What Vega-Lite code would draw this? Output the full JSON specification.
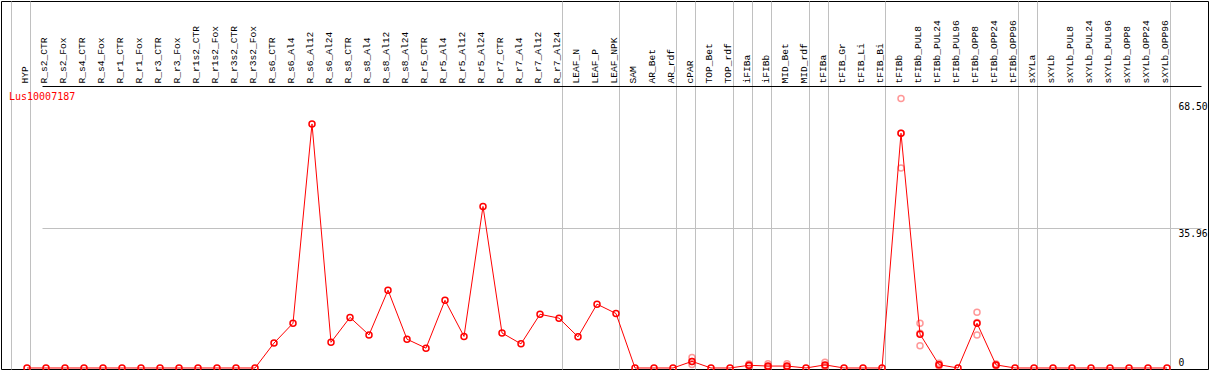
{
  "$schema": "https://vega.github.io/schema/vega-lite/v6.json",
  "width": 1207,
  "height": 368,
  "autosize": {"type": "none"},
  "padding": {"left": 1, "top": 1, "right": 1, "bottom": 1},
  "background": "white",
  "config": {"view": {"stroke": "black", "strokeWidth": 1}, "font": "DejaVu Sans Mono"},
  "title": {"text": "Lus10007187", "orient": "top", "anchor": "start", "frame": "group", "offset": -109, "dx": 8, "color": "red", "font": "DejaVu Sans Mono", "fontSize": 10, "fontWeight": "normal", "baseline": "alphabetic"},
  "datasets": {
    "means": [
      {"sample": "HYP", "expr": 0}, {"sample": "R_s2_CTR", "expr": 0}, {"sample": "R_s2_Fox", "expr": 0},
      {"sample": "R_s4_CTR", "expr": 0}, {"sample": "R_s4_Fox", "expr": 0}, {"sample": "R_r1_CTR", "expr": 0},
      {"sample": "R_r1_Fox", "expr": 0}, {"sample": "R_r3_CTR", "expr": 0}, {"sample": "R_r3_Fox", "expr": 0},
      {"sample": "R_r1s2_CTR", "expr": 0}, {"sample": "R_r1s2_Fox", "expr": 0}, {"sample": "R_r3s2_CTR", "expr": 0},
      {"sample": "R_r3s2_Fox", "expr": 0}, {"sample": "R_s6_CTR", "expr": 6.4}, {"sample": "R_s6_Al4", "expr": 11.5},
      {"sample": "R_s6_Al12", "expr": 62.7}, {"sample": "R_s6_Al24", "expr": 6.6}, {"sample": "R_s8_CTR", "expr": 13.0},
      {"sample": "R_s8_Al4", "expr": 8.5}, {"sample": "R_s8_Al12", "expr": 20.0}, {"sample": "R_s8_Al24", "expr": 7.4},
      {"sample": "R_r5_CTR", "expr": 5.1}, {"sample": "R_r5_Al4", "expr": 17.4}, {"sample": "R_r5_Al12", "expr": 8.1},
      {"sample": "R_r5_Al24", "expr": 41.5}, {"sample": "R_r7_CTR", "expr": 9.0}, {"sample": "R_r7_Al4", "expr": 6.2},
      {"sample": "R_r7_Al12", "expr": 13.8}, {"sample": "R_r7_Al24", "expr": 12.8}, {"sample": "LEAF_N", "expr": 8.0},
      {"sample": "LEAF_P", "expr": 16.4}, {"sample": "LEAF_NPK", "expr": 14.0}, {"sample": "SAM", "expr": 0},
      {"sample": "AR_Bet", "expr": 0}, {"sample": "AR_rdf", "expr": 0}, {"sample": "cPAR", "expr": 1.7},
      {"sample": "TOP_Bet", "expr": 0}, {"sample": "TOP_rdf", "expr": 0}, {"sample": "iFIBa", "expr": 0.7},
      {"sample": "iFIBb", "expr": 0.5}, {"sample": "MID_Bet", "expr": 0.5}, {"sample": "MID_rdf", "expr": 0},
      {"sample": "tFIBa", "expr": 0.8}, {"sample": "tFIB_Gr", "expr": 0}, {"sample": "tFIB_Li", "expr": 0},
      {"sample": "tFIB_Bi", "expr": 0}, {"sample": "tFIBb", "expr": 60.3}, {"sample": "tFIBb_PUL8", "expr": 8.7},
      {"sample": "tFIBb_PUL24", "expr": 0.85}, {"sample": "tFIBb_PUL96", "expr": 0}, {"sample": "tFIBb_OPP8", "expr": 11.5},
      {"sample": "tFIBb_OPP24", "expr": 0.8}, {"sample": "tFIBb_OPP96", "expr": 0}, {"sample": "sXYLa", "expr": 0},
      {"sample": "sXYLb", "expr": 0}, {"sample": "sXYLb_PUL8", "expr": 0}, {"sample": "sXYLb_PUL24", "expr": 0},
      {"sample": "sXYLb_PUL96", "expr": 0}, {"sample": "sXYLb_OPP8", "expr": 0}, {"sample": "sXYLb_OPP24", "expr": 0},
      {"sample": "sXYLb_OPP96", "expr": 0}
    ],
    "reps": [
      {"sample": "cPAR", "expr": 2.7}, {"sample": "cPAR", "expr": 1.7}, {"sample": "cPAR", "expr": 0.9},
      {"sample": "iFIBa", "expr": 1.0}, {"sample": "iFIBa", "expr": 0.6}, {"sample": "iFIBa", "expr": 0.5},
      {"sample": "iFIBb", "expr": 1.1}, {"sample": "iFIBb", "expr": 0.3}, {"sample": "iFIBb", "expr": 0.1},
      {"sample": "MID_Bet", "expr": 1.1}, {"sample": "MID_Bet", "expr": 0.3}, {"sample": "MID_Bet", "expr": 0.1},
      {"sample": "tFIBa", "expr": 1.5}, {"sample": "tFIBa", "expr": 0.6}, {"sample": "tFIBa", "expr": 0.3},
      {"sample": "tFIBb", "expr": 69.2}, {"sample": "tFIBb", "expr": 60.3}, {"sample": "tFIBb", "expr": 51.4},
      {"sample": "tFIBb_PUL8", "expr": 11.5}, {"sample": "tFIBb_PUL8", "expr": 8.9}, {"sample": "tFIBb_PUL8", "expr": 5.7},
      {"sample": "tFIBb_PUL24", "expr": 1.2}, {"sample": "tFIBb_PUL24", "expr": 0.85}, {"sample": "tFIBb_PUL24", "expr": 0.5},
      {"sample": "tFIBb_OPP8", "expr": 14.3}, {"sample": "tFIBb_OPP8", "expr": 11.7}, {"sample": "tFIBb_OPP8", "expr": 8.5},
      {"sample": "tFIBb_OPP24", "expr": 1.0}, {"sample": "tFIBb_OPP24", "expr": 0.8}, {"sample": "tFIBb_OPP24", "expr": 0.6}
    ]
  },
  "encoding": {
    "x": {
      "field": "sample", "type": "nominal", "sort": null,
      "scale": {"type": "point", "padding": 0, "range": [7, 1166], "domain": ["", "HYP", "R_s2_CTR", "R_s2_Fox", "R_s4_CTR", "R_s4_Fox", "R_r1_CTR", "R_r1_Fox", "R_r3_CTR", "R_r3_Fox", "R_r1s2_CTR", "R_r1s2_Fox", "R_r3s2_CTR", "R_r3s2_Fox", "R_s6_CTR", "R_s6_Al4", "R_s6_Al12", "R_s6_Al24", "R_s8_CTR", "R_s8_Al4", "R_s8_Al12", "R_s8_Al24", "R_r5_CTR", "R_r5_Al4", "R_r5_Al12", "R_r5_Al24", "R_r7_CTR", "R_r7_Al4", "R_r7_Al12", "R_r7_Al24", "LEAF_N", "LEAF_P", "LEAF_NPK", "SAM", "AR_Bet", "AR_rdf", "cPAR", "TOP_Bet", "TOP_rdf", "iFIBa", "iFIBb", "MID_Bet", "MID_rdf", "tFIBa", "tFIB_Gr", "tFIB_Li", "tFIB_Bi", "tFIBb", "tFIBb_PUL8", "tFIBb_PUL24", "tFIBb_PUL96", "tFIBb_OPP8", "tFIBb_OPP24", "tFIBb_OPP96", "sXYLa", "sXYLb", "sXYLb_PUL8", "sXYLb_PUL24", "sXYLb_PUL96", "sXYLb_OPP8", "sXYLb_OPP24", "sXYLb_OPP96"]},
      "axis": {
        "orient": "top", "offset": -85, "title": null,
        "labelAngle": 270, "labelAlign": "left", "labelBaseline": "middle",
        "labelPadding": 3, "labelFont": "Liberation Mono", "labelFontSize": 9.6, "labelColor": "black",
        "labelOverlap": false, "labelFlush": false,
        "ticks": false, "domain": false,
        "tickOffset": 3, "labelOffset": -6,
        "grid": true, "gridColor": "#c0c0c0", "gridWidth": 1,
        "gridOpacity": {"condition": {"test": "indexof(['', 'HYP', 'R_r7_Al24', 'LEAF_NPK', 'AR_rdf', 'cPAR', 'TOP_rdf', 'iFIBa', 'iFIBb', 'MID_rdf', 'tFIBa', 'tFIB_Bi', 'tFIBb_OPP96', 'sXYLa', 'sXYLb_OPP96'], datum.value) >= 0", "value": 1}, "value": 0}
      }
    },
    "y": {
      "field": "expr", "type": "quantitative",
      "scale": {"domain": [-0.257, 94.27], "nice": false, "zero": false},
      "axis": {
        "orient": "right", "title": null, "values": [0, 35.96, 68.5, 72.43],
        "labelExpr": "datum.value > 70 ? '' : datum.value == 0 ? '0' : format(datum.value, '.2f')",
        "labelAlign": "left", "labelPadding": -30,
        "labelBaseline": {"condition": {"test": "datum.value == 0", "value": "bottom"}, "value": "top"},
        "ticks": false, "domain": false,
        "labelFont": "DejaVu Sans Mono", "labelFontSize": 9.7, "labelColor": "black",
        "labelFlush": false, "labelOverlap": false,
        "grid": true, "gridWidth": 1,
        "gridColor": {"condition": {"test": "datum.value > 70", "value": "black"}, "value": "#c0c0c0"},
        "gridOpacity": {"condition": {"test": "(datum.value > 30 && datum.value < 40) || datum.value > 70", "value": 1}, "value": 0}
      }
    }
  },
  "layer": [
    {"data": {"name": "reps"}, "mark": {"type": "point", "shape": "circle", "filled": false, "color": "red", "opacity": 0.4, "size": 36, "strokeWidth": 1.5}},
    {"data": {"name": "means"}, "mark": {"type": "line", "color": "red", "strokeWidth": 1}},
    {"data": {"name": "means"}, "mark": {"type": "point", "shape": "circle", "filled": false, "color": "red", "opacity": 1, "size": 36, "strokeWidth": 1.5}}
  ]
}
